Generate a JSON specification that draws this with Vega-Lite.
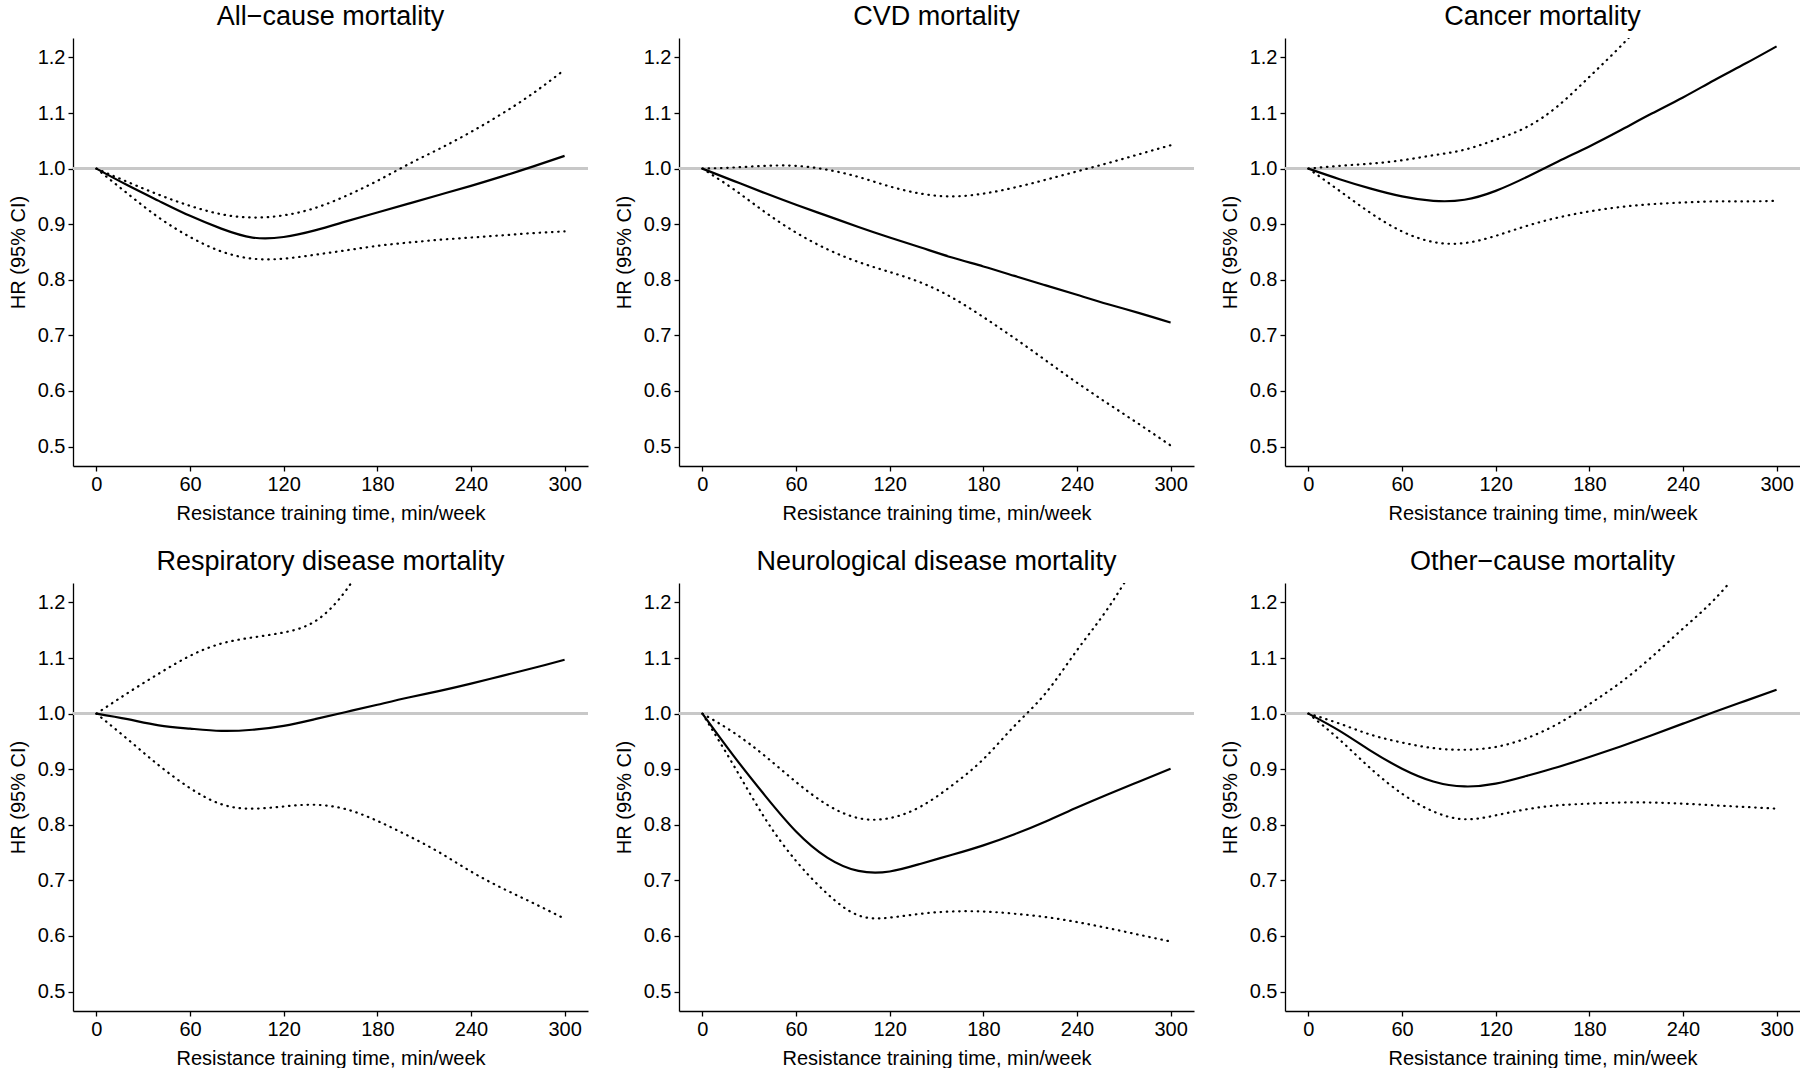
{
  "$schema": "https://vega.github.io/schema/vega-lite/v6.json",
  "background": "white",
  "padding": {"left": 8, "top": 3, "right": 0, "bottom": 0},
  "data": {
    "values": [
      {"panel": "All−cause mortality", "t": 0, "hr": 1.0, "lo": 1.0, "hi": 1.0},
      {"panel": "All−cause mortality", "t": 20, "hr": 0.970, "lo": 0.955, "hi": 0.976},
      {"panel": "All−cause mortality", "t": 40, "hr": 0.942, "lo": 0.912, "hi": 0.953},
      {"panel": "All−cause mortality", "t": 60, "hr": 0.915, "lo": 0.877, "hi": 0.933},
      {"panel": "All−cause mortality", "t": 80, "hr": 0.892, "lo": 0.851, "hi": 0.918},
      {"panel": "All−cause mortality", "t": 100, "hr": 0.876, "lo": 0.838, "hi": 0.912},
      {"panel": "All−cause mortality", "t": 120, "hr": 0.877, "lo": 0.838, "hi": 0.916},
      {"panel": "All−cause mortality", "t": 140, "hr": 0.889, "lo": 0.845, "hi": 0.929},
      {"panel": "All−cause mortality", "t": 160, "hr": 0.905, "lo": 0.853, "hi": 0.951},
      {"panel": "All−cause mortality", "t": 180, "hr": 0.921, "lo": 0.861, "hi": 0.978},
      {"panel": "All−cause mortality", "t": 200, "hr": 0.937, "lo": 0.867, "hi": 1.008},
      {"panel": "All−cause mortality", "t": 220, "hr": 0.953, "lo": 0.872, "hi": 1.036},
      {"panel": "All−cause mortality", "t": 240, "hr": 0.969, "lo": 0.876, "hi": 1.066},
      {"panel": "All−cause mortality", "t": 260, "hr": 0.986, "lo": 0.880, "hi": 1.099},
      {"panel": "All−cause mortality", "t": 280, "hr": 1.004, "lo": 0.884, "hi": 1.136},
      {"panel": "All−cause mortality", "t": 300, "hr": 1.023, "lo": 0.887, "hi": 1.178},

      {"panel": "CVD mortality", "t": 0, "hr": 1.0, "lo": 1.0, "hi": 1.0},
      {"panel": "CVD mortality", "t": 20, "hr": 0.978, "lo": 0.963, "hi": 1.002},
      {"panel": "CVD mortality", "t": 40, "hr": 0.956, "lo": 0.922, "hi": 1.005},
      {"panel": "CVD mortality", "t": 60, "hr": 0.935, "lo": 0.885, "hi": 1.005},
      {"panel": "CVD mortality", "t": 80, "hr": 0.915, "lo": 0.855, "hi": 0.998},
      {"panel": "CVD mortality", "t": 100, "hr": 0.895, "lo": 0.832, "hi": 0.985},
      {"panel": "CVD mortality", "t": 120, "hr": 0.876, "lo": 0.814, "hi": 0.968},
      {"panel": "CVD mortality", "t": 140, "hr": 0.858, "lo": 0.795, "hi": 0.955},
      {"panel": "CVD mortality", "t": 160, "hr": 0.840, "lo": 0.768, "hi": 0.950},
      {"panel": "CVD mortality", "t": 180, "hr": 0.824, "lo": 0.733, "hi": 0.955},
      {"panel": "CVD mortality", "t": 200, "hr": 0.807, "lo": 0.695, "hi": 0.966},
      {"panel": "CVD mortality", "t": 220, "hr": 0.790, "lo": 0.655, "hi": 0.980},
      {"panel": "CVD mortality", "t": 240, "hr": 0.773, "lo": 0.615, "hi": 0.995},
      {"panel": "CVD mortality", "t": 260, "hr": 0.756, "lo": 0.577, "hi": 1.010},
      {"panel": "CVD mortality", "t": 280, "hr": 0.740, "lo": 0.540, "hi": 1.026},
      {"panel": "CVD mortality", "t": 300, "hr": 0.723, "lo": 0.502, "hi": 1.042},

      {"panel": "Cancer mortality", "t": 0, "hr": 1.0, "lo": 1.0, "hi": 1.0},
      {"panel": "Cancer mortality", "t": 20, "hr": 0.981, "lo": 0.960, "hi": 1.005},
      {"panel": "Cancer mortality", "t": 40, "hr": 0.964, "lo": 0.920, "hi": 1.009},
      {"panel": "Cancer mortality", "t": 60, "hr": 0.950, "lo": 0.887, "hi": 1.015},
      {"panel": "Cancer mortality", "t": 80, "hr": 0.942, "lo": 0.868, "hi": 1.024},
      {"panel": "Cancer mortality", "t": 100, "hr": 0.944, "lo": 0.866, "hi": 1.034},
      {"panel": "Cancer mortality", "t": 120, "hr": 0.960, "lo": 0.879, "hi": 1.052},
      {"panel": "Cancer mortality", "t": 140, "hr": 0.985, "lo": 0.897, "hi": 1.075},
      {"panel": "Cancer mortality", "t": 160, "hr": 1.013, "lo": 0.912, "hi": 1.113},
      {"panel": "Cancer mortality", "t": 180, "hr": 1.040, "lo": 0.923, "hi": 1.165},
      {"panel": "Cancer mortality", "t": 200, "hr": 1.069, "lo": 0.931, "hi": 1.220},
      {"panel": "Cancer mortality", "t": 220, "hr": 1.099, "lo": 0.936, "hi": 1.280},
      {"panel": "Cancer mortality", "t": 240, "hr": 1.128, "lo": 0.939, "hi": 1.340},
      {"panel": "Cancer mortality", "t": 260, "hr": 1.159, "lo": 0.941, "hi": 1.400},
      {"panel": "Cancer mortality", "t": 280, "hr": 1.189, "lo": 0.941, "hi": 1.460},
      {"panel": "Cancer mortality", "t": 300, "hr": 1.220, "lo": 0.942, "hi": 1.520},

      {"panel": "Respiratory disease mortality", "t": 0, "hr": 1.0, "lo": 1.0, "hi": 1.0},
      {"panel": "Respiratory disease mortality", "t": 20, "hr": 0.990, "lo": 0.954, "hi": 1.037},
      {"panel": "Respiratory disease mortality", "t": 40, "hr": 0.979, "lo": 0.907, "hi": 1.072},
      {"panel": "Respiratory disease mortality", "t": 60, "hr": 0.973, "lo": 0.866, "hi": 1.104},
      {"panel": "Respiratory disease mortality", "t": 80, "hr": 0.969, "lo": 0.837, "hi": 1.126},
      {"panel": "Respiratory disease mortality", "t": 100, "hr": 0.971, "lo": 0.829, "hi": 1.137},
      {"panel": "Respiratory disease mortality", "t": 120, "hr": 0.978, "lo": 0.833, "hi": 1.146},
      {"panel": "Respiratory disease mortality", "t": 140, "hr": 0.990, "lo": 0.836, "hi": 1.166},
      {"panel": "Respiratory disease mortality", "t": 160, "hr": 1.003, "lo": 0.828, "hi": 1.222},
      {"panel": "Respiratory disease mortality", "t": 180, "hr": 1.016, "lo": 0.807, "hi": 1.310},
      {"panel": "Respiratory disease mortality", "t": 200, "hr": 1.029, "lo": 0.780, "hi": 1.400},
      {"panel": "Respiratory disease mortality", "t": 220, "hr": 1.041, "lo": 0.750, "hi": 1.500},
      {"panel": "Respiratory disease mortality", "t": 240, "hr": 1.054, "lo": 0.716, "hi": 1.600},
      {"panel": "Respiratory disease mortality", "t": 260, "hr": 1.068, "lo": 0.686, "hi": 1.700},
      {"panel": "Respiratory disease mortality", "t": 280, "hr": 1.082, "lo": 0.659, "hi": 1.800},
      {"panel": "Respiratory disease mortality", "t": 300, "hr": 1.097, "lo": 0.631, "hi": 1.900},

      {"panel": "Neurological disease mortality", "t": 0, "hr": 1.0, "lo": 1.0, "hi": 1.0},
      {"panel": "Neurological disease mortality", "t": 20, "hr": 0.924, "lo": 0.907, "hi": 0.966},
      {"panel": "Neurological disease mortality", "t": 40, "hr": 0.853, "lo": 0.812, "hi": 0.924},
      {"panel": "Neurological disease mortality", "t": 60, "hr": 0.788, "lo": 0.735, "hi": 0.877},
      {"panel": "Neurological disease mortality", "t": 80, "hr": 0.741, "lo": 0.676, "hi": 0.836},
      {"panel": "Neurological disease mortality", "t": 100, "hr": 0.717, "lo": 0.637, "hi": 0.812},
      {"panel": "Neurological disease mortality", "t": 120, "hr": 0.716, "lo": 0.633, "hi": 0.812},
      {"panel": "Neurological disease mortality", "t": 140, "hr": 0.730, "lo": 0.640, "hi": 0.833},
      {"panel": "Neurological disease mortality", "t": 160, "hr": 0.746, "lo": 0.644, "hi": 0.871},
      {"panel": "Neurological disease mortality", "t": 180, "hr": 0.763, "lo": 0.644, "hi": 0.918},
      {"panel": "Neurological disease mortality", "t": 200, "hr": 0.783, "lo": 0.640, "hi": 0.978},
      {"panel": "Neurological disease mortality", "t": 220, "hr": 0.806, "lo": 0.634, "hi": 1.037},
      {"panel": "Neurological disease mortality", "t": 240, "hr": 0.831, "lo": 0.625, "hi": 1.114},
      {"panel": "Neurological disease mortality", "t": 260, "hr": 0.855, "lo": 0.614, "hi": 1.190},
      {"panel": "Neurological disease mortality", "t": 280, "hr": 0.878, "lo": 0.602, "hi": 1.280},
      {"panel": "Neurological disease mortality", "t": 300, "hr": 0.901, "lo": 0.590, "hi": 1.370},

      {"panel": "Other−cause mortality", "t": 0, "hr": 1.0, "lo": 1.0, "hi": 1.0},
      {"panel": "Other−cause mortality", "t": 20, "hr": 0.969, "lo": 0.953, "hi": 0.982},
      {"panel": "Other−cause mortality", "t": 40, "hr": 0.933, "lo": 0.901, "hi": 0.962},
      {"panel": "Other−cause mortality", "t": 60, "hr": 0.901, "lo": 0.856, "hi": 0.948},
      {"panel": "Other−cause mortality", "t": 80, "hr": 0.878, "lo": 0.824, "hi": 0.938},
      {"panel": "Other−cause mortality", "t": 100, "hr": 0.869, "lo": 0.810, "hi": 0.935},
      {"panel": "Other−cause mortality", "t": 120, "hr": 0.874, "lo": 0.817, "hi": 0.940},
      {"panel": "Other−cause mortality", "t": 140, "hr": 0.888, "lo": 0.828, "hi": 0.956},
      {"panel": "Other−cause mortality", "t": 160, "hr": 0.904, "lo": 0.835, "hi": 0.982},
      {"panel": "Other−cause mortality", "t": 180, "hr": 0.922, "lo": 0.838, "hi": 1.017},
      {"panel": "Other−cause mortality", "t": 200, "hr": 0.941, "lo": 0.840, "hi": 1.056},
      {"panel": "Other−cause mortality", "t": 220, "hr": 0.961, "lo": 0.840, "hi": 1.102},
      {"panel": "Other−cause mortality", "t": 240, "hr": 0.982, "lo": 0.838, "hi": 1.153},
      {"panel": "Other−cause mortality", "t": 260, "hr": 1.003, "lo": 0.835, "hi": 1.205},
      {"panel": "Other−cause mortality", "t": 280, "hr": 1.023, "lo": 0.832, "hi": 1.270},
      {"panel": "Other−cause mortality", "t": 300, "hr": 1.043, "lo": 0.829, "hi": 1.340}
    ]
  },
  "facet": {
    "field": "panel",
    "type": "nominal",
    "sort": ["All−cause mortality", "CVD mortality", "Cancer mortality", "Respiratory disease mortality", "Neurological disease mortality", "Other−cause mortality"],
    "header": {"title": null, "labelFontSize": 27, "labelFont": "Liberation Sans", "labelColor": "black", "labelPadding": 7}
  },
  "columns": 3,
  "spacing": {"row": 25, "column": 25},
  "resolve": {"axis": {"x": "independent", "y": "independent"}},
  "spec": {
    "width": 515,
    "height": 428,
    "layer": [
      {
        "mark": {"type": "rule", "color": "#c8c8c8", "strokeWidth": 1.6},
        "encoding": {"y": {"datum": 1, "type": "quantitative", "scale": {"domain": [0.465, 1.235], "nice": false, "zero": false}}}
      },
      {
        "mark": {"type": "line", "color": "black", "strokeWidth": 2.2, "strokeCap": "round", "strokeDash": [0.5, 5.7], "clip": true, "interpolate": "natural"},
        "encoding": {
          "x": {"field": "t", "type": "quantitative", "scale": {"domain": [-15, 315], "nice": false, "zero": false}, "axis": {"values": [0, 60, 120, 180, 240, 300], "title": "Resistance training time, min/week"}},
          "y": {"field": "lo", "type": "quantitative", "axis": {"values": [0.5, 0.6, 0.7, 0.8, 0.9, 1.0, 1.1, 1.2], "format": ".1f", "title": "HR (95% CI)"}}
        }
      },
      {
        "mark": {"type": "line", "color": "black", "strokeWidth": 2.2, "strokeCap": "round", "strokeDash": [0.5, 5.7], "clip": true, "interpolate": "natural"},
        "encoding": {
          "x": {"field": "t", "type": "quantitative"},
          "y": {"field": "hi", "type": "quantitative"}
        }
      },
      {
        "mark": {"type": "line", "color": "black", "strokeWidth": 2.2, "clip": true, "interpolate": "natural"},
        "encoding": {
          "x": {"field": "t", "type": "quantitative"},
          "y": {"field": "hr", "type": "quantitative"}
        }
      }
    ]
  },
  "config": {
    "font": "Liberation Sans",
    "view": {"stroke": null},
    "axis": {
      "grid": false,
      "domainColor": "black",
      "domainWidth": 1.3,
      "tickColor": "black",
      "tickWidth": 1.3,
      "tickSize": 5,
      "labelFontSize": 20,
      "labelColor": "black",
      "labelPadding": 3,
      "titleFontSize": 20,
      "titleFontWeight": "normal",
      "titleColor": "black",
      "titlePadding": 9
    },
    "axisY": {"labelFlush": false},
    "axisX": {"labelFlush": false}
  }
}
